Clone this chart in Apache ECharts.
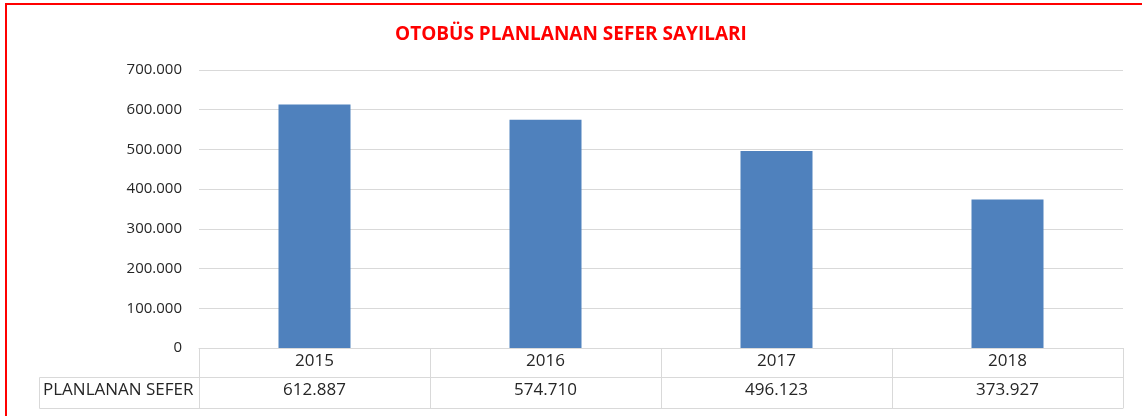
<!DOCTYPE html>
<html>
<head>
<meta charset="utf-8">
<script src="https://cdn.jsdelivr.net/npm/echarts@6/dist/echarts.min.js"></script>
<style>
	html, body { margin: 0; padding: 0; background: #fff; }
	#chart { width: 1142px; height: 416px; }
</style>
</head>
<body>
<div id="chart"></div>
<script>
var years = ['2015', '2016', '2017', '2018'];
var seferler = [612887, 574710, 496123, 373927];
var rowName = 'PLANLANAN SEFER';

// binlik ayraci nokta
function fmt(v) {
	return String(v).replace(/\B(?=(\d{3})+(?!\d))/g, '.');
}

var gray = '#D9D9D9';
var font = 'Open Sans';

var chart = echarts.init(document.getElementById('chart'));

var option = {
	animation: false,
	textStyle: { fontFamily: font },
	title: {
		text: 'OTOBÜS PLANLANAN SEFER SAYILARI',
		left: 'center',
		top: 20,
		textStyle: { color: '#FF0000', fontSize: 19, fontWeight: 'bold', fontFamily: font }
	},
	grid: { left: 199, right: 19, top: 70, bottom: 68 },
	xAxis: [
		{
			type: 'category',
			data: years,
			position: 'bottom',
			axisLine: { show: true, lineStyle: { color: gray } },
			axisTick: { show: true, length: 60, lineStyle: { color: gray } },
			axisLabel: { color: '#262626', fontSize: 17, margin: 5 }
		},
		{
			type: 'category',
			data: seferler,
			position: 'bottom',
			offset: 29,
			axisLine: { show: true, lineStyle: { color: gray } },
			axisTick: { show: false },
			axisLabel: {
				color: '#262626', fontSize: 17, margin: 5,
				formatter: function (v) { return fmt(v); }
			}
		},
		{
			type: 'category',
			data: years,
			position: 'bottom',
			offset: 60,
			axisLine: { show: true, lineStyle: { color: gray } },
			axisTick: { show: false },
			axisLabel: { show: false }
		}
	],
	yAxis: {
		type: 'value',
		min: 0,
		max: 700000,
		interval: 100000,
		axisLine: { show: false },
		axisTick: { show: false },
		splitLine: { lineStyle: { color: gray } },
		axisLabel: {
			color: '#262626', fontSize: 15, margin: 17,
			formatter: function (v) { return fmt(v); }
		}
	},
	series: [
		{
			name: rowName,
			type: 'bar',
			data: seferler,
			barWidth: 72,
			itemStyle: { color: '#4F81BD' }
		}
	],
	graphic: [
		{
			type: 'rect',
			shape: { x: 6, y: 4, width: 1200, height: 500 },
			style: { fill: null, stroke: '#FF0000', lineWidth: 2 },
			silent: true
		},
		{
			type: 'polyline',
			shape: { points: [[199, 377.5], [39.5, 377.5], [39.5, 408.5], [199, 408.5]] },
			style: { fill: null, stroke: gray, lineWidth: 1 }
		},
		{
			type: 'text',
			left: 43,
			top: 382,
			style: { text: rowName, fill: '#262626', fontSize: 17, fontFamily: font }
		}
	]
};

chart.setOption(option);
</script>
</body>
</html>
